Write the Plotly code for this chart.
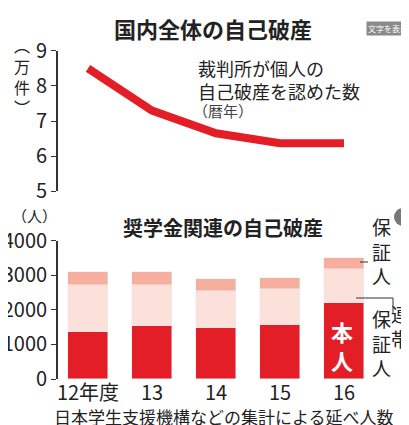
import plotly.graph_objects as go

years = ["12年度", "13", "14", "15", "16"]
total_bankrupt = [8.5, 7.3, 6.65, 6.37, 6.37]   # 万件
honnin = [1365, 1540, 1490, 1580, 2210]
rentai = [1365, 1180, 1070, 1040, 980]
hoshonin = [385, 380, 340, 310, 310]

F = "Noto Sans CJK JP"
RED = "#e41e26"
x = list(range(len(years)))

fig = go.Figure()
fig.add_trace(go.Scatter(x=x, y=total_bankrupt, mode="lines", line=dict(color=RED, width=8),
                         xaxis="x", yaxis="y", showlegend=False, hoverinfo="skip"))
fig.add_trace(go.Bar(x=x, y=honnin, marker_color=RED, width=0.63, xaxis="x2", yaxis="y2", showlegend=False))
fig.add_trace(go.Bar(x=x, y=rentai, marker_color="#fbe1d9", width=0.63, xaxis="x2", yaxis="y2", showlegend=False))
fig.add_trace(go.Bar(x=x, y=hoshonin, marker_color="#f6ae9f", width=0.63, xaxis="x2", yaxis="y2", showlegend=False))

ax = dict(showline=True, linecolor="#333", linewidth=1.5, ticks="outside", ticklen=5, automargin=False,
          tickcolor="#333", tickfont=dict(family=F, size=20, color="#222"), showgrid=False, zeroline=False)
fig.update_layout(
    width=409, height=425, margin=dict(l=0, r=0, t=0, b=0, autoexpand=False),
    paper_bgcolor="white", plot_bgcolor="white", barmode="stack", bargap=0,
    font=dict(family=F),
    xaxis=dict(domain=[0.122, 1], range=[-0.47, 5.14], visible=False, anchor="y", automargin=False),
    yaxis=dict(domain=[0.569, 0.899], range=[5, 9], tickvals=[5, 6, 7, 8, 9], anchor="x", **ax),
    xaxis2=dict(domain=[0.122, 1], range=[-0.47, 5.14], anchor="y2", tickvals=x, ticktext=years, automargin=False,
                showline=False, ticks="", tickfont=dict(family=F, size=20, color="#222"), showgrid=False, zeroline=False),
    yaxis2=dict(domain=[0.127, 0.452], range=[0, 4000], tickvals=[0, 1000, 2000, 3000, 4000], anchor="x2", **ax),
)

def ann(text, xp, yp, size, bold=False, color="#222", xa="center", ya="middle", **kw):
    fig.add_annotation(text=f"<b>{text}</b>" if bold else text, x=xp, y=yp, xref="paper", yref="paper",
                       xanchor=xa, yanchor=ya, showarrow=False,
                       font=dict(family=F, size=size, color=color), **kw)

ann("国内全体の自己破産", 205/409, 1 - 20/425, 22, bold=True)
ann("文字を表示", 380/409, 1 - 20/425, 8, color="white", bgcolor="#8a8a8a")
ann("︵<br>万<br>件<br>︶", 14/409, 1 - 68/425, 16)
ann("裁判所が個人の<br>自己破産を認めた数", 188/409, 1 - 45/425, 18, xa="left", ya="top", align="left")
ann("（暦年）", 183/409, 1 - 103/425, 15, xa="left", color="#444")
ann("（人）", 2/409, 1 - 207/425, 15, xa="left")
ann("奨学金関連の自己破産", 215/409, 1 - 219/425, 20, bold=True)
ann("保<br>証<br>人", 373/409, 1 - 243/425, 19)
ann("保<br>証<br>人", 373/409, 1 - 335/425, 19)
ann("連<br>帯", 392/409, 1 - 318/425, 19)
ann("本<br>人", 334/409, 1 - 337/425, 22, bold=True, color="white")
ann("日本学生支援機構などの集計による延べ人数", 216/409, 1 - 408/425, 17)

fig.add_shape(type="line", xref="paper", yref="paper", x0=352/409, x1=360/409, y0=1 - 254/425, y1=1 - 254/425, line=dict(color="#333", width=1))
fig.add_shape(type="line", xref="paper", yref="paper", x0=348/409, x1=385/409, y0=1 - 290/425, y1=1 - 290/425, line=dict(color="#333", width=1))
fig.add_shape(type="line", xref="paper", yref="paper", x0=385/409, x1=385/409, y0=1 - 290/425, y1=1 - 305/425, line=dict(color="#333", width=1))
fig.add_shape(type="circle", xref="paper", yref="paper", x0=386/409, x1=404/409, y0=1 - 218/425, y1=1 - 200/425, fillcolor="#777", line=dict(width=0))
ann("›", 395/409, 1 - 209/425, 14, bold=True, color="white")

fig.write_html("out.html")
